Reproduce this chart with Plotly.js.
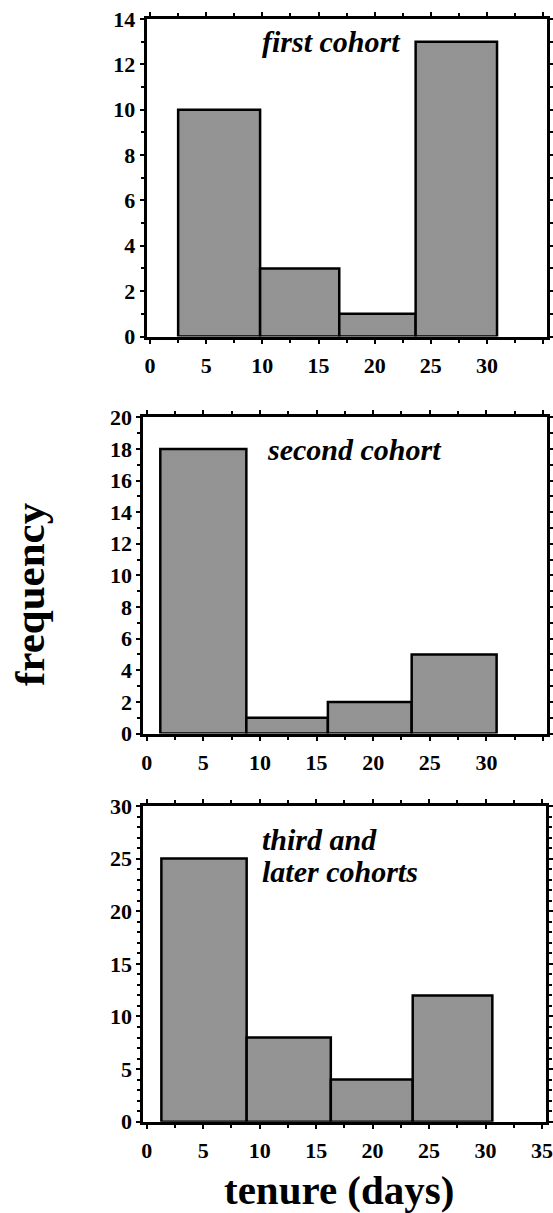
<!DOCTYPE html>
<html>
<head>
<meta charset="utf-8">
<script src="https://cdn.plot.ly/plotly-3.0.1.min.js"></script>
<style>html,body{margin:0;padding:0;background:#fff;}#chart{width:553px;height:1213px;}</style>
</head>
<body>
<div id="chart"></div>
<script>
// ---- data ----
const panelLabels = ["first cohort", "second cohort", "third and later cohorts"];
const firstEdges  = [2.5, 9.8, 16.85, 23.65, 30.9];
const firstCounts = [10, 3, 1, 13];
const secondEdges  = [1.2, 8.8, 16.0, 23.4, 30.9];
const secondCounts = [18, 1, 2, 5];
const thirdEdges  = [1.3, 8.85, 16.3, 23.55, 30.6];
const thirdCounts = [25, 8, 4, 12];
const xTickVals = [0, 5, 10, 15, 20, 25, 30, 35];
const xTickTextUpper = ["0", "5", "10", "15", "20", "25", "30", ""];
const xTickTextLower = ["0", "5", "10", "15", "20", "25", "30", "35"];
const xMinorVals = [2.5, 7.5, 12.5, 17.5, 22.5, 27.5, 32.5];
const yTitle = "frequency";
const xTitle = "tenure (days)";

const W = 553, H = 1213;
const px = v => v / W;
const py = v => 1 - v / H;
const SERIF = '"Liberation Serif", "Times New Roman", Times, serif';

function barTrace(edges, counts, xa, ya) {
  const centers = counts.map((_, i) => (edges[i] + edges[i + 1]) / 2);
  const widths = counts.map((_, i) => edges[i + 1] - edges[i]);
  return {
    type: 'bar', x: centers, y: counts, width: widths,
    xaxis: xa, yaxis: ya,
    marker: {
      color: '#b0b0b0',
      line: {color: '#000', width: 2.5},
      pattern: {shape: '.', fgcolor: '#2a2a2a', bgcolor: '#cccccc', size: 2, solidity: 0.33}
    },
    hoverinfo: 'skip', showlegend: false
  };
}

const tickFont = {family: SERIF, size: 22, color: '#000', weight: 'bold'};

function xAxis(domain, anchor, texts) {
  return {
    domain: domain, anchor: anchor, range: [-0.3, 35.35],
    tickmode: 'array', tickvals: xTickVals, ticktext: texts,
    ticks: 'outside', ticklen: 4, tickwidth: 2, tickcolor: '#000',
    minor: {tickmode: 'array', tickvals: xMinorVals, ticks: 'outside', ticklen: 3, tickwidth: 2, tickcolor: '#000'},
    showline: true, linewidth: 3, linecolor: '#000', mirror: 'ticks',
    showgrid: false, zeroline: false, fixedrange: true,
    tickfont: tickFont, ticklabelstandoff: 3, ticklabeloverflow: 'allow'
  };
}
function yAxis(domain, anchor, maxv, dt) {
  return {
    domain: domain, anchor: anchor, range: [0, maxv],
    tickmode: 'linear', tick0: 0, dtick: dt,
    ticks: 'outside', ticklen: 4, tickwidth: 2, tickcolor: '#000',
    minor: {dtick: 1, ticks: 'outside', ticklen: 3, tickwidth: 2, tickcolor: '#000'},
    showline: true, linewidth: 3, linecolor: '#000', mirror: 'ticks',
    showgrid: false, zeroline: false, fixedrange: true,
    tickfont: tickFont, ticklabelstandoff: 0, ticklabeloverflow: 'allow'
  };
}

const data = [
  barTrace(firstEdges, firstCounts, 'x', 'y'),
  barTrace(secondEdges, secondCounts, 'x2', 'y2'),
  barTrace(thirdEdges, thirdCounts, 'x3', 'y3')
];

const annFont = {family: SERIF, size: 30, color: '#000', weight: 'bold', style: 'italic'};
const thirdParts = panelLabels[2].split(' ');
const layout = {
  width: W, height: H,
  margin: {l: 0, r: 0, t: 0, b: 0},
  paper_bgcolor: '#fff', plot_bgcolor: '#fff',
  bargap: 0,
  xaxis:  xAxis([px(146.7), px(547)], 'y', xTickTextUpper),
  yaxis:  yAxis([py(336.5), py(19)], 'x', 14, 2),
  xaxis2: xAxis([px(143.3), px(547)], 'y2', xTickTextUpper),
  yaxis2: yAxis([py(733.5), py(417.3)], 'x2', 20, 2),
  xaxis3: xAxis([px(143.3), px(546)], 'y3', xTickTextLower),
  yaxis3: yAxis([py(1121.7), py(806)], 'x3', 30, 5),
  annotations: [
    {text: panelLabels[0], xref: 'paper', yref: 'paper', x: px(331.7), y: py(41), xanchor: 'center', yanchor: 'middle', showarrow: false, font: annFont},
    {text: panelLabels[1], xref: 'paper', yref: 'paper', x: px(354), y: py(449.5), xanchor: 'center', yanchor: 'middle', showarrow: false, font: annFont},
    {text: thirdParts.slice(0, 2).join(' '), xref: 'paper', yref: 'paper', x: px(260), y: py(839.5), xanchor: 'left', yanchor: 'middle', showarrow: false, font: annFont},
    {text: thirdParts.slice(2).join(' '), xref: 'paper', yref: 'paper', x: px(260), y: py(871), xanchor: 'left', yanchor: 'middle', showarrow: false, font: annFont},
    {text: yTitle, xref: 'paper', yref: 'paper', x: px(29), y: py(594), xanchor: 'center', yanchor: 'middle', textangle: -90, showarrow: false,
     font: {family: SERIF, size: 43, color: '#000', weight: 'bold'}},
    {text: xTitle, xref: 'paper', yref: 'paper', x: px(339), y: py(1190), xanchor: 'center', yanchor: 'middle', showarrow: false,
     font: {family: SERIF, size: 41, color: '#000', weight: 'bold'}}
  ]
};

Plotly.newPlot('chart', data, layout, {displayModeBar: false, staticPlot: true});
</script>
</body>
</html>
